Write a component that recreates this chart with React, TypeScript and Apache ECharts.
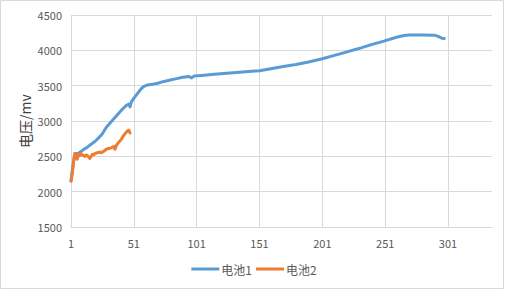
import React, { useEffect, useRef } from "react";
import * as echarts from "echarts";

// Sample numbers 1..336 along the category axis
const sampleCount = 336;
const categories: string[] = Array.from({ length: sampleCount }, (_, i) => String(i + 1));

const yTicks = { min: 1500, max: 4500, step: 500 };
const yTitle = "电压/mv";

const seriesNames = ["电池1", "电池2"];

// [sample number, voltage in mV]
const battery1: [number, number][] = [
  [1, 2150], [2, 2300], [3, 2420], [4, 2520], [5, 2540], [7, 2545], [9, 2570], [11, 2595],
  [14, 2630], [17, 2670], [20, 2710], [23, 2760], [26, 2820], [28, 2880], [30, 2930],
  [33, 2990], [36, 3050], [39, 3110], [42, 3170], [45, 3220], [47, 3240], [48, 3200],
  [49, 3270], [51, 3320], [54, 3390], [57, 3460], [59, 3490], [62, 3510], [66, 3520],
  [70, 3535], [75, 3560], [80, 3580], [85, 3600], [90, 3620], [95, 3630], [97, 3610],
  [99, 3638], [105, 3645], [115, 3660], [125, 3675], [135, 3690], [145, 3705], [151, 3712],
  [160, 3740], [170, 3770], [180, 3800], [190, 3835], [201, 3880], [210, 3925], [220, 3975],
  [230, 4025], [240, 4080], [250, 4130], [260, 4185], [266, 4210], [270, 4218], [280, 4218],
  [290, 4215], [292, 4205], [294, 4190], [296, 4172], [298, 4166],
];

const battery2: [number, number][] = [
  [1, 2150], [2, 2250], [3, 2420], [4, 2540], [5, 2500], [6, 2460], [7, 2530], [8, 2510],
  [9, 2540], [10, 2520], [11, 2510], [12, 2500], [13, 2520], [14, 2510], [15, 2490],
  [16, 2470], [17, 2500], [18, 2530], [19, 2520], [20, 2540], [22, 2550], [24, 2560],
  [25, 2550], [27, 2570], [29, 2600], [31, 2610], [33, 2620], [35, 2640], [36, 2600],
  [37, 2650], [39, 2700], [41, 2740], [43, 2800], [45, 2840], [46, 2860], [47, 2870],
  [48, 2830],
];

const colors = ["#5B9BD5", "#ED7D31"];
const font = "'Noto Sans CJK SC', 'Noto Sans', sans-serif";

const toIndexed = (pts: [number, number][]) => pts.map(([s, v]) => [s - 1, v]);

export default function App() {
  const ref = useRef<HTMLDivElement>(null);

  useEffect(() => {
    if (!ref.current) return;
    const chart = echarts.init(ref.current, undefined, { renderer: "svg" });
    chart.setOption({
      animation: false,
      backgroundColor: "#ffffff",
      color: colors,
      textStyle: { fontFamily: font },
      graphic: [
        {
          type: "rect",
          shape: { x: 0.5, y: 0.5, width: 503, height: 288 },
          style: { fill: "none", stroke: "#d9d9d9", lineWidth: 1 },
          silent: true,
        },
        {
          type: "text",
          x: 25,
          y: 121,
          rotation: Math.PI / 2,
          style: {
            text: yTitle,
            fill: "#404040",
            font: `14px ${font}`,
            align: "center",
            verticalAlign: "middle",
          },
          silent: true,
        },
      ],
      grid: { left: 71, right: 16, top: 15, bottom: 63 },
      legend: {
        bottom: 10,
        left: "center",
        icon: "rect",
        itemWidth: 28,
        itemHeight: 3,
        itemGap: 4,
        textStyle: { color: "#595959", fontSize: 12, fontFamily: font, padding: [0, 0, 0, -3] },
        data: seriesNames,
      },
      xAxis: {
        type: "category",
        data: categories,
        boundaryGap: false,
        axisLine: { show: true, lineStyle: { color: "#d9d9d9" } },
        axisTick: { show: false },
        axisLabel: { interval: 49, color: "#595959", fontSize: 11, margin: 10 },
        splitLine: { show: true, interval: 49, lineStyle: { color: "#d9d9d9" } },
      },
      yAxis: {
        type: "value",
        min: yTicks.min,
        max: yTicks.max,
        interval: yTicks.step,
        axisLine: { show: false },
        axisTick: { show: false },
        axisLabel: {
          color: "#595959",
          fontSize: 11,
          margin: 9,
          formatter: (v: number) => String(v),
        },
        splitLine: { lineStyle: { color: "#d9d9d9" } },
      },
      series: [
        {
          name: seriesNames[0],
          type: "line",
          data: toIndexed(battery1),
          showSymbol: false,
          symbol: "none",
          lineStyle: { width: 3, color: colors[0], cap: "round", join: "round" },
        },
        {
          name: seriesNames[1],
          type: "line",
          data: toIndexed(battery2),
          showSymbol: false,
          symbol: "none",
          lineStyle: { width: 3, color: colors[1], cap: "round", join: "round" },
        },
      ],
    });
    return () => chart.dispose();
  }, []);

  return (
    <div
      ref={ref}
      style={{ position: "fixed", left: 0, top: 0, width: 508, height: 290 }}
    />
  );
}
